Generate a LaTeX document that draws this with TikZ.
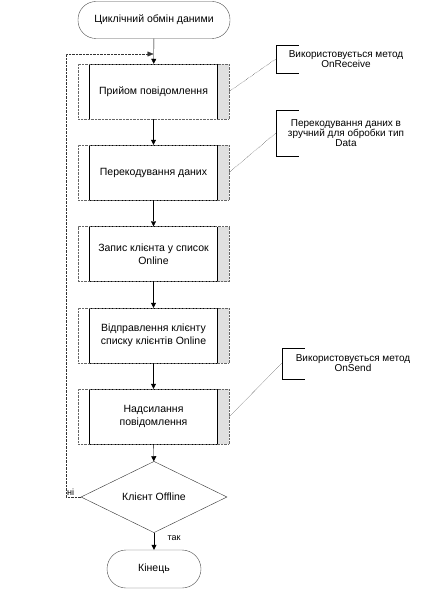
\documentclass[tikz,border=0pt]{standalone}
\usepackage{fontspec}
\setmainfont{Liberation Sans}
\usetikzlibrary{shapes.geometric,arrows.meta}

\begin{document}
\begin{tikzpicture}[x=1pt,y=-1pt,
  font=\fontsize{10.5}{13}\selectfont,
  terminal/.style={draw=black!70,rounded corners=18pt,minimum width=152pt,minimum height=37pt,inner sep=0pt},
  procbox/.style={draw=black!60,densely dotted,minimum width=151pt,minimum height=55pt,inner sep=0pt,align=center,
    path picture={
      \fill[black!12] ([xshift=-12pt]path picture bounding box.north east) rectangle (path picture bounding box.south east);
      \draw[solid,black] ([xshift=11pt]path picture bounding box.north west) -- ([xshift=11pt]path picture bounding box.south west);
      \draw[solid,black] ([xshift=-12pt]path picture bounding box.north east) -- ([xshift=-12pt]path picture bounding box.south east);
      \draw[solid,black] ([xshift=11pt]path picture bounding box.north west) -- ([xshift=-12pt]path picture bounding box.north east);
      \draw[solid,black] ([xshift=11pt]path picture bounding box.south west) -- ([xshift=-12pt]path picture bounding box.south east);
    }},
  decision/.style={draw=black!80,diamond,minimum width=146pt,minimum height=56pt,inner sep=0pt},
  note/.style={font=\fontsize{10}{10}\selectfont,align=center,inner sep=0pt},
  flow/.style={-{Triangle[length=5pt,width=5pt]},black},
  noteline/.style={black,densely dotted}
]
\useasboundingbox (0,0) rectangle (428,591);

% main chain
\node[terminal] (start) at (154,20) {Циклічний обмін даними};
\node[procbox] (recv) at (153.5,91.5) {Прийом повідомлення};
\node[procbox] (recode) at (153.5,172.5) {Перекодування даних};
\node[procbox] (addlist) at (153.5,254) {Запис клієнта у список\\Online};
\node[procbox] (sendlist) at (153.5,335.5) {Відправлення клієнту\\списку клієнтів Online};
\node[procbox] (sendmsg) at (153.5,416.5) {Надсилання\\повідомлення};
\node[decision] (offline) at (154,497) {Клієнт Offline};
\node[terminal,minimum width=94pt,minimum height=38pt,rounded corners=19pt] (finish) at (154,569) {Кінець};

\draw[flow] (start) -- (recv);
\draw[flow] (recv) -- (recode);
\draw[flow] (recode) -- (addlist);
\draw[flow] (addlist) -- (sendlist);
\draw[flow] (sendlist) -- (sendmsg);
\draw[flow] (sendmsg) -- (offline);
\draw[flow] (offline) -- node[pos=0.3,right=10pt,font=\fontsize{9}{10}\selectfont] (yes) {так} (finish);

% loop back
\coordinate (loopcorner) at (66,497);
\coordinate (looptop) at (66,54);
\coordinate (loopin) at (153.5,54);
\draw[black!80,densely dotted,-{Triangle[length=6pt,width=5pt]}] (offline.west) -- (loopcorner) -- (looptop) -- (loopin);
\node[font=\fontsize{9}{10}\selectfont,anchor=south west,inner sep=1pt] (no) at (loopcorner) {ні};

% comments
\node[note,minimum width=140pt,minimum height=28pt] (n1) at (346,59) {Використовується метод\\OnReceive};
\node[note,minimum width=140pt,minimum height=45pt] (n2) at (346,133) {Перекодування даних в\\зручний для обробки тип\\Data};
\node[note,minimum width=142pt,minimum height=31pt] (n3) at (353,363.5) {Використовується метод\\OnSend};
\foreach \n in {n1,n2,n3}
  \draw[black] ([xshift=23pt]\n.north west) -- (\n.north west) -- (\n.south west) -- ([xshift=23pt]\n.south west);
\draw[noteline] (recv.east) -- (n1.west);
\draw[noteline] (recode.east) -- (n2.west);
\draw[noteline] (sendmsg.east) -- (n3.west);
\end{tikzpicture}
\end{document}
